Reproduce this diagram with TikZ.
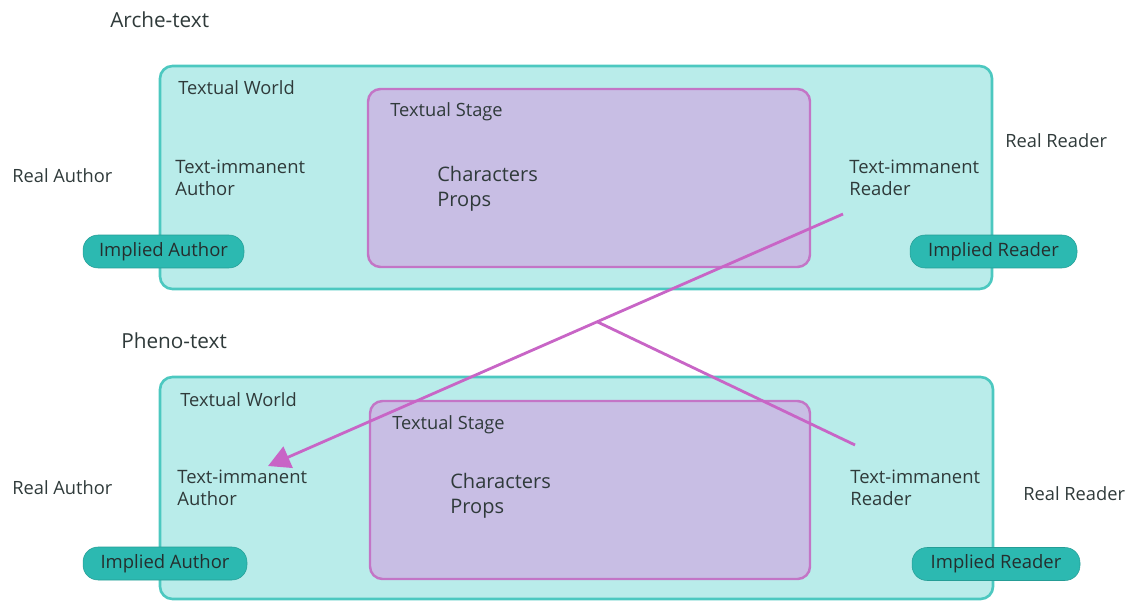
\documentclass[tikz,border=0pt]{standalone}
\usepackage{fontspec}
\setmainfont{Open Sans}
\usetikzlibrary{arrows.meta,calc}
\definecolor{worldfill}{HTML}{B9ECEA}
\definecolor{worldline}{HTML}{4CC8C0}
\definecolor{stagefill}{HTML}{C8BEE4}
\definecolor{stageline}{HTML}{C375C6}
\definecolor{pillfill}{HTML}{2CB9B1}
\definecolor{linkcol}{HTML}{C865C6}
\definecolor{txt}{HTML}{2F3A3A}
\tikzset{
  world/.style={draw=worldline,fill=worldfill,line width=1.5pt,rounded corners=0.25cm},
  stage/.style={draw=stageline,fill=stagefill,line width=1.4pt,rounded corners=0.25cm},
  pill/.style={fill=pillfill,draw=pillfill!85!black,line width=0.3pt,rounded corners=0.3cm,
    minimum height=0.66cm,inner xsep=0pt,text=txt!80!black,font=\fontsize{10.5}{12}\selectfont},
  lbl/.style={anchor=west,inner sep=0pt,text=txt,font=\fontsize{10.4}{12}\selectfont},
  heading/.style={lbl,font=\fontsize{11.8}{14}\selectfont},
  twoline/.style={lbl,anchor=north west,align=left,font=\fontsize{10.5}{12.3}\selectfont},
  stagetext/.style={twoline,font=\fontsize{11.4}{14.2}\selectfont},
  link/.style={draw=linkcol,line width=1.6pt}
}
\begin{document}
\begin{tikzpicture}[x=0.02cm,y=-0.02cm,line join=round]
	\useasboundingbox (0,0) rectangle (1135,601);
	\node[heading] (arche) at (110,20) {Arche-text};
	\draw[world] (160,66) rectangle (992,289);
	\draw[stage] (368,89) rectangle (810,267);
	\node[lbl] (worldA) at (178,88) {Textual World};
	\node[lbl] (stageA) at (390,112) {Textual Stage};
	\node[stagetext] (charA) at (437,166) {Characters\\Props};
	\node[twoline] (authA) at (175,160) {Text-immanent\\Author};
	\node[twoline] (readA) at (849,160) {Text-immanent\\Reader};
	\node[lbl] (realauthA) at (12,176) {Real Author};
	\node[lbl] (realreadA) at (1005,141) {Real Reader};
	\node[pill,minimum width=3.22cm] (implauthA) at (163.5,251.5) {Implied Author};
	\node[pill,minimum width=3.34cm] (implreadA) at (993.5,251.5) {Implied Reader};
	\node[heading] (pheno) at (121,341) {Pheno-text};
	\draw[world] (160,377) rectangle (993,599);
	\draw[stage] (370,401) rectangle (810,579);
	\node[lbl] (worldB) at (180,400) {Textual World};
	\node[lbl] (stageB) at (392,425) {Textual Stage};
	\node[stagetext] (charB) at (450,473) {Characters\\Props};
	\node[twoline] (authB) at (177,470) {Text-immanent\\Author};
	\node[twoline] (readB) at (850,470) {Text-immanent\\Reader};
	\node[lbl] (realauthB) at (12,488) {Real Author};
	\node[lbl] (realreadB) at (1023,494) {Real Reader};
	\node[pill,minimum width=3.28cm] (implauthB) at (165,563.5) {Implied Author};
	\node[pill,minimum width=3.36cm] (implreadB) at (996,564) {Implied Reader};
	\coordinate (from) at ($(readA.south west)+(-6,18)$);
	\coordinate (to) at ($(authB.north west)+(91,-4)$);
	\coordinate (fork) at ($(from)!0.4276!(to)$);
	\coordinate (back) at ($(readB.north west)+(5,-25)$);
	\draw[link,-{Triangle[length=0.44cm,width=0.46cm]}] (from) -- (to);
	\draw[link] (fork) -- (back);
\end{tikzpicture}
\end{document}
